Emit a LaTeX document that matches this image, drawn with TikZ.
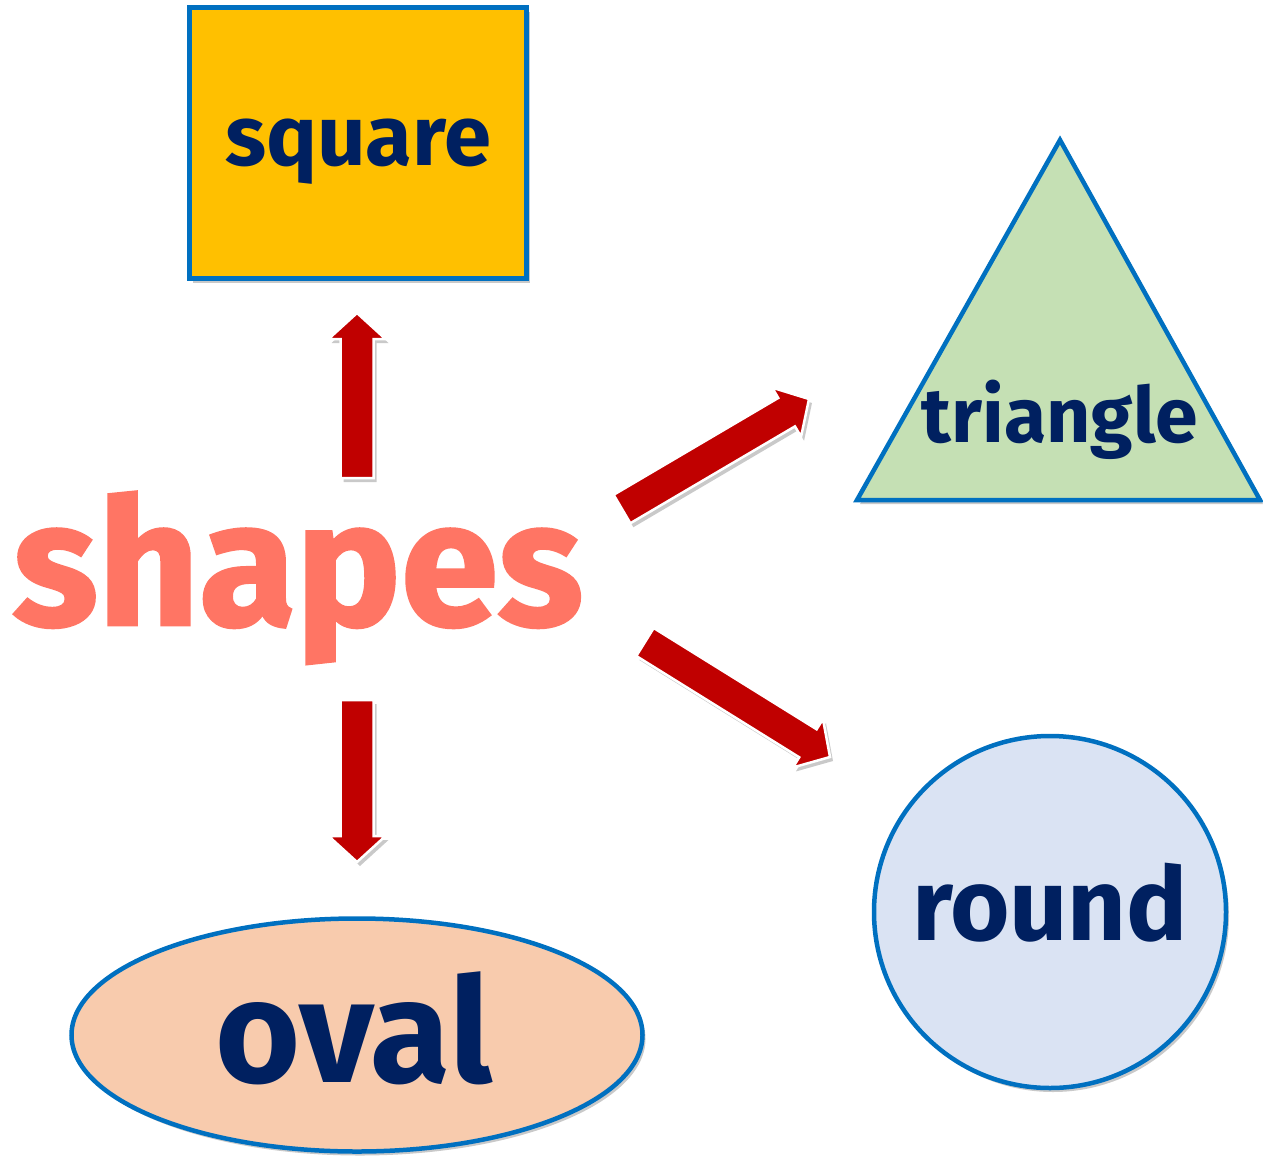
\documentclass[tikz,border=0pt]{standalone}
\usepackage{fontspec}
\setmainfont{Fira Sans}
\newfontfamily\shapesfont{Fira Sans}[BoldFeatures={FakeBold=1.5}]
\usetikzlibrary{calc,shapes.geometric,shadows}
\definecolor{navy}{HTML}{002060}
\definecolor{bordblue}{HTML}{0070C0}
\definecolor{gold}{HTML}{FFC000}
\definecolor{paleGreen}{HTML}{C5E0B4}
\definecolor{paleBlue}{HTML}{DAE3F3}
\definecolor{peach}{HTML}{F8CBAD}
\definecolor{salmon}{HTML}{FF7564}
\definecolor{darkred}{HTML}{C00000}
\tikzset{
  softshadow/.style={drop shadow={shadow xshift=3pt,shadow yshift=-4pt,opacity=0.3,fill=black!70}},
  shapebox/.style={draw=bordblue,line width=4.5pt,softshadow},
  lbl/.style={text=navy,font=\bfseries,anchor=base,inner sep=0pt},
  barrow/.style={fill=darkred,draw=white,line width=2.5pt,line join=miter,softshadow}
}
\newcommand\blockarrow[2]{%
  \coordinate (hb) at ($(#2)!26pt!(#1)$);
  \draw[barrow] ($(#1)!16.5pt!90:(#2)$) -- ($(hb)!16.5pt!90:(#2)$) -- ($(hb)!28.5pt!90:(#2)$)
    -- (#2) -- ($(hb)!28.5pt!-90:(#2)$) -- ($(hb)!16.5pt!-90:(#2)$) -- ($(#1)!16.5pt!-90:(#2)$) -- cycle;}
\begin{document}
\begin{tikzpicture}[x=1pt,y=-1pt]
\useasboundingbox (0,0) rectangle (1263,1159);
% square
\node[shapebox,fill=gold,rectangle,minimum width=337pt,minimum height=271pt] (sq) at (358,143) {};
\node[lbl,font=\bfseries\fontsize{85}{90}\selectfont] (sqt) at (358,165) {square};
% triangle
\coordinate (tA) at (1060,140);
\coordinate (tB) at (1260,500);
\coordinate (tC) at (857,500);
\draw[shapebox,fill=paleGreen,line join=miter] (tA) -- (tB) -- (tC) -- cycle;
\node[lbl,font=\bfseries\fontsize{77}{80}\selectfont] (trt) at (1060,442) {triangle};
% circle
\node[shapebox,fill=paleBlue,circle,minimum size=352pt] (ci) at (1050,912) {};
\node[lbl,font=\bfseries\fontsize{102}{110}\selectfont] (cit) at (1050,940) {round};
% ellipse
\node[shapebox,fill=peach,ellipse,minimum width=571pt,minimum height=233pt] (el) at (357,1035) {};
\node[lbl,font=\bfseries\fontsize{146}{150}\selectfont] (elt) at (354,1082) {oval};
% central word
\node[anchor=base,inner sep=0pt,text=salmon,font=\shapesfont\bfseries\fontsize{176}{180}\selectfont] (sh) at (298,625) {shapes};
% arrows
\coordinate (u1) at (357,478);
\coordinate (u2) at (357,313);
\coordinate (d1) at (357,700);
\coordinate (d2) at (357,862);
\coordinate (r1) at (622,509);
\coordinate (r2) at (809,399);
\coordinate (s1) at (645,642);
\coordinate (s2) at (830,757);
\blockarrow{u1}{u2}
\blockarrow{d1}{d2}
\blockarrow{r1}{r2}
\blockarrow{s1}{s2}
\end{tikzpicture}
\end{document}
